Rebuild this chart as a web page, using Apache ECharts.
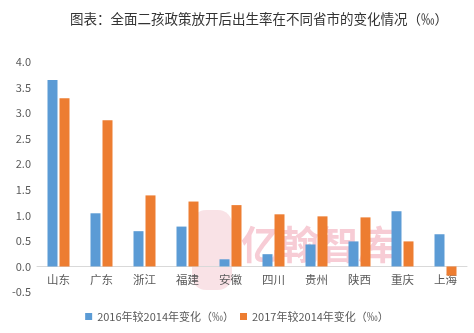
<!DOCTYPE html>
<html>
<head>
<meta charset="utf-8">
<script src="https://cdn.jsdelivr.net/npm/echarts@6/dist/echarts.min.js"></script>
<style>
  html, body { margin: 0; padding: 0; background: #fff; }
  #chart { width: 474px; height: 333px; }
</style>
</head>
<body>
<div id="chart"></div>
<script>
// Provinces / municipalities
const categories = ['山东', '广东', '浙江', '福建', '安徽', '四川', '贵州', '陕西', '重庆', '上海'];
// Change in birth rate (‰)
const change2016vs2014 = [3.65, 1.04, 0.69, 0.78, 0.14, 0.24, 0.43, 0.49, 1.08, 0.63];
const change2017vs2014 = [3.29, 2.86, 1.39, 1.27, 1.20, 1.02, 0.98, 0.96, 0.49, -0.18];
const seriesNames = ['2016年较2014年变化（‰）', '2017年较2014年变化（‰）'];
const yTicks = { min: -0.5, max: 4.0, interval: 0.5 };

const font = '"Microsoft YaHei", "Noto Sans CJK SC", sans-serif';
const gridTop = 62, gridBottom = 41, chartHeight = 333;
// distance from the plot bottom (y = min) up to the zero line
const plotHeight = chartHeight - gridTop - gridBottom;
const zeroOffset = plotHeight * (0 - yTicks.min) / (yTicks.max - yTicks.min);

const chart = echarts.init(document.getElementById('chart'));

chart.setOption({
  animation: false,
  title: {
    text: '图表：全面二孩政策放开后出生率在不同省市的变化情况（‰）',
    left: 254,
    textAlign: 'center',
    top: 7,
    textStyle: { fontFamily: font, fontSize: 13.5, fontWeight: 'normal', color: '#333' }
  },
  legend: {
    data: seriesNames,
    bottom: 6,
    left: 'center',
    itemWidth: 7,
    itemHeight: 7,
    itemGap: 6,
    icon: 'rect',
    textStyle: { fontFamily: font, fontSize: 11, color: '#595959' }
  },
  grid: { left: 37, right: 7, top: gridTop, bottom: gridBottom, containLabel: false },
  xAxis: {
    type: 'category',
    data: categories,
    offset: -zeroOffset,
    axisLine: { onZero: false, lineStyle: { color: '#d9d9d9' } },
    axisTick: { show: false },
    axisLabel: { fontFamily: font, fontSize: 11.5, color: '#595959', margin: 7 }
  },
  yAxis: {
    type: 'value',
    min: yTicks.min,
    max: yTicks.max,
    interval: yTicks.interval,
    splitLine: { show: false },
    axisLine: { show: false },
    axisTick: { show: false },
    axisLabel: {
      fontFamily: font, fontSize: 11, color: '#595959', margin: 6,
      formatter: v => v.toFixed(1)
    }
  },
  series: [
    {
      name: seriesNames[0],
      type: 'bar',
      data: change2016vs2014,
      barWidth: 10,
      barGap: '20%',
      itemStyle: { color: '#5B9BD5' }
    },
    {
      name: seriesNames[1],
      type: 'bar',
      data: change2017vs2014,
      barWidth: 10,
      barGap: '20%',
      itemStyle: { color: '#ED7D31' }
    }
  ],
  graphic: [
    {
      type: 'group',
      z: 100,
      silent: true,
      children: [
        {
          type: 'rect',
          shape: { x: 192, y: 210, width: 40, height: 80, r: 14 },
          style: { fill: 'rgba(225, 110, 130, 0.2)' }
        },
        {
          type: 'text',
          x: 241,
          y: 225,
          style: {
            text: '亿翰智库',
            font: 'bold 39px "Noto Sans CJK SC", sans-serif',
            fill: 'rgba(235, 120, 145, 0.38)'
          }
        }
      ]
    }
  ]
});
</script>
</body>
</html>
